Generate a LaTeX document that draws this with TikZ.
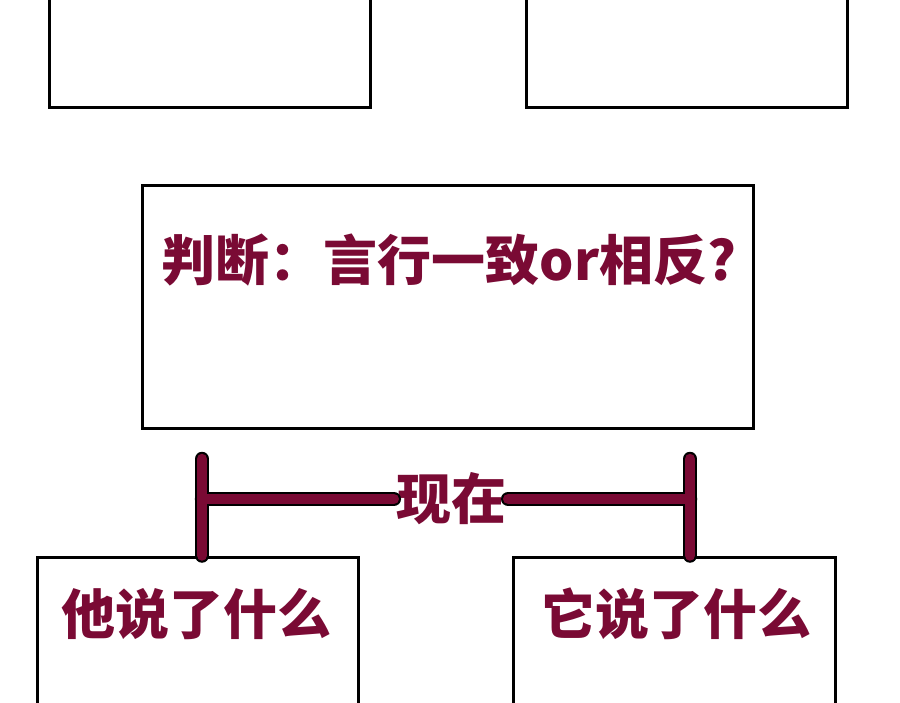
\documentclass[tikz,border=0pt]{standalone}
\usepackage{fontspec}
\newfontfamily\cjk{Noto Sans CJK SC}
\usetikzlibrary{positioning}
\definecolor{wine}{RGB}{122,10,52}

\begin{document}
\begin{tikzpicture}[x=1pt, y=-1pt,
  panel/.style={draw, line width=3pt, fill=white, inner sep=0pt},
  say/.style={text=wine, font=\cjk\bfseries\fontsize{54}{60}\selectfont, inner sep=2pt},
  bar/.style={draw=wine, line width=10.5pt, line cap=round,
    preaction={draw=black, line width=14.5pt, line cap=round}}]
\useasboundingbox (0,0) rectangle (900,703);
\clip (0,0) rectangle (900,703);
% panels
\node[panel, minimum width=321pt, minimum height=158pt] (pa) at (209.5,29) {};
\node[panel, minimum width=321pt, minimum height=158pt] (pb) at (686.5,29) {};
\node[panel, minimum width=611pt, minimum height=242pt] (judge) at (447.5,307) {};
\node[panel, minimum width=321pt, minimum height=203pt] (he) at (197.5,658.5) {};
\node[panel, minimum width=322pt, minimum height=203pt] (it) at (674,658.5) {};
% texts
\node[say] (qtext) at (449,260) {判断：言行一致or相反?};
\node[say] (hetext) at (196,614) {他说了什么};
\node[say] (ittext) at (676,614) {它说了什么};
\node[say, font=\cjk\bfseries\fontsize{55}{60}\selectfont] (now) at (451,499) {现在};
% bracket
\coordinate (lt) at (202,459);
\coordinate (rt) at (690,459);
\draw[bar] (lt) -- (lt |- he.north) (rt) -- (rt |- it.north)
  (lt |- now.west) -- (now.west) (now.east) -- (rt |- now.east);
\end{tikzpicture}
\end{document}
